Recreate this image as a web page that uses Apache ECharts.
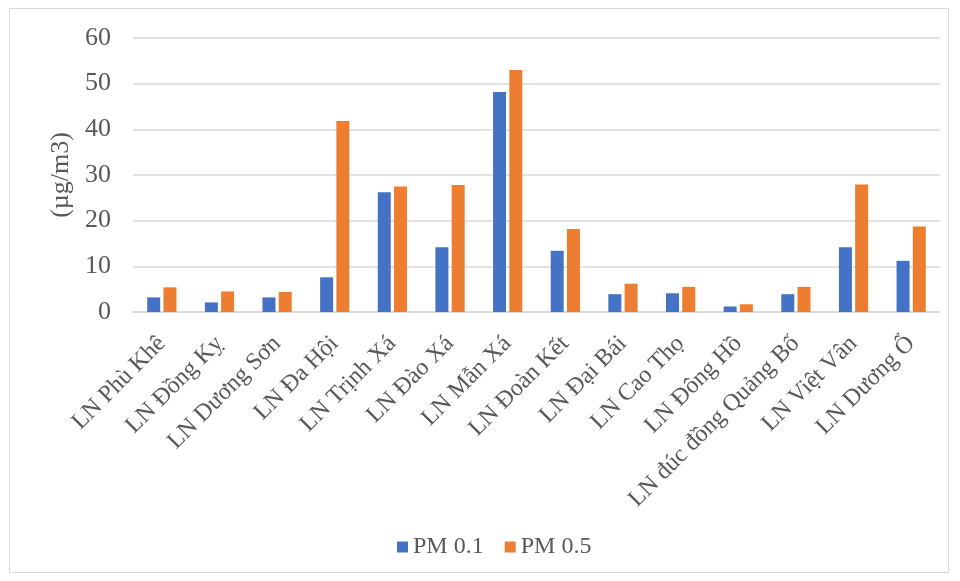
<!DOCTYPE html>
<html>
<head>
<meta charset="utf-8">
<script src="https://cdn.jsdelivr.net/npm/echarts@6/dist/echarts.min.js"></script>
<style>
  html, body { margin: 0; padding: 0; background: #fff; }
  #chart { width: 960px; height: 581px; }
</style>
</head>
<body>
<div id="chart"></div>
<script>
// các điểm đo
const categories = ['LN Phù Khê', 'LN Đồng Kỵ', 'LN Dương Sơn', 'LN Đa Hội', 'LN Trịnh Xá', 'LN Đào Xá', 'LN Mẫn Xá',
  'LN Đoàn Kết', 'LN Đại Bái', 'LN Cao Thọ', 'LN Đông Hồ', 'LN đúc đồng Quảng Bố', 'LN Việt Vân', 'LN Dương Ổ']
const pm01 = [3.2, 2.1, 3.2, 7.6, 26.2, 14.2, 48.2, 13.4, 3.9, 4.1, 1.2, 3.9, 14.2, 11.2]
const pm05 = [5.4, 4.5, 4.4, 41.8, 27.5, 27.8, 53.0, 18.2, 6.2, 5.5, 1.7, 5.5, 27.9, 18.7]
const seriesNames = ['PM 0.1', 'PM 0.5']
const colors = ['#4472C4', '#ED7D31']

const font = 'Liberation Serif, Times New Roman, serif'
const chart = echarts.init(document.getElementById('chart'))

const option = {
  animation: false,
  textStyle: { fontFamily: font },
  color: colors,
  graphic: [{
    type: 'rect',
    shape: { x: 9.5, y: 8.5, width: 939, height: 564 },
    style: { fill: 'none', stroke: '#d9d9d9', lineWidth: 1 },
    silent: true
  }],
  legend: {
    bottom: 17,
    left: 392,
    itemWidth: 11,
    itemHeight: 11,
    itemGap: 21,
    icon: 'rect',
    textStyle: { fontFamily: font, fontSize: 24, color: '#595959' },
    data: seriesNames
  },
  grid: { left: 133, right: 20, top: 38, bottom: 269 },
  xAxis: {
    type: 'category',
    data: categories,
    axisLine: { lineStyle: { color: '#d9d9d9', width: 1.5 } },
    axisTick: { show: false },
    axisLabel: {
      rotate: 45,
      interval: 0,
      margin: 28,
      fontFamily: font,
      fontSize: 24,
      color: '#595959'
    }
  },
  yAxis: {
    type: 'value',
    min: 0,
    max: 60,
    interval: 10,
    name: '(µg/m3)',
    nameLocation: 'middle',
    nameGap: 59,
    nameTextStyle: { fontFamily: font, fontSize: 26, color: '#595959' },
    axisLine: { show: false },
    axisTick: { show: false },
    axisLabel: { margin: 22, fontFamily: font, fontSize: 26, color: '#595959' },
    splitLine: { lineStyle: { color: '#d9d9d9', width: 1.5 } }
  },
  series: [
    { name: seriesNames[0], type: 'bar', data: pm01, barWidth: 13, barGap: '25%' },
    { name: seriesNames[1], type: 'bar', data: pm05, barWidth: 13, barGap: '25%' }
  ]
}
chart.setOption(option)
</script>
</body>
</html>
